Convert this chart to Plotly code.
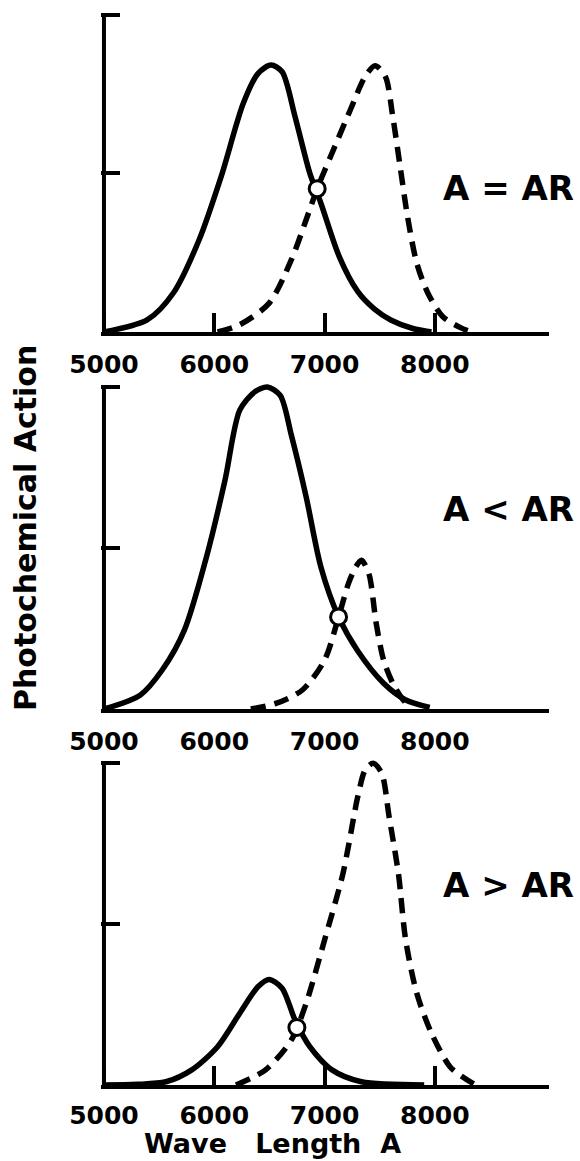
import plotly.graph_objects as go

# ---------------- data (wavelength in Angstrom, photochemical action in relative units) -------------
# Panel 1 : A = AR
p1_solid_x = [5000, 5395, 5629, 5863, 6063, 6264, 6398, 6515, 6615, 6732, 6866, 6966, 7133, 7300, 7450, 7600, 7800, 7969]
p1_solid_y = [0.0, 0.039, 0.123, 0.291, 0.491, 0.722, 0.816, 0.842, 0.821, 0.680, 0.501, 0.407, 0.238, 0.128, 0.073, 0.038, 0.011, 0.0]
p1_dash_x = [6030, 6231, 6498, 6699, 6833, 6933, 7067, 7234, 7368, 7458, 7551, 7618, 7685, 7752, 7836, 7936, 8070, 8237, 8337]
p1_dash_y = [0.0, 0.023, 0.091, 0.228, 0.354, 0.452, 0.564, 0.701, 0.806, 0.840, 0.806, 0.680, 0.522, 0.364, 0.217, 0.123, 0.049, 0.013, 0.0]
p1_cross_x = [6933]
p1_cross_y = [0.452]

# Panel 2 : A < AR
p2_solid_x = [5000, 5328, 5528, 5729, 5930, 6097, 6231, 6364, 6481, 6598, 6699, 6833, 6966, 7127, 7301, 7535, 7736, 7953]
p2_solid_y = [0.0, 0.043, 0.121, 0.245, 0.473, 0.710, 0.928, 0.984, 1.0, 0.974, 0.850, 0.659, 0.442, 0.286, 0.180, 0.080, 0.028, 0.005]
p2_dash_x = [6331, 6565, 6799, 7000, 7127, 7217, 7284, 7334, 7401, 7468, 7535, 7618, 7702, 7769]
p2_dash_y = [0.0, 0.018, 0.059, 0.152, 0.286, 0.390, 0.442, 0.462, 0.421, 0.266, 0.152, 0.080, 0.033, 0.007]
p2_cross_x = [7127]
p2_cross_y = [0.286]

# Panel 3 : A > AR
p3_solid_x = [5000, 5300, 5562, 5796, 6030, 6231, 6398, 6498, 6615, 6732, 6866, 7067, 7334, 7903]
p3_solid_y = [0.0, 0.002, 0.010, 0.047, 0.119, 0.223, 0.306, 0.328, 0.301, 0.202, 0.119, 0.047, 0.010, 0.0]
p3_dash_x = [6197, 6465, 6699, 6833, 7000, 7167, 7301, 7368, 7441, 7518, 7585, 7669, 7735, 7836, 7969, 8137, 8270, 8371]
p3_dash_y = [0.0, 0.047, 0.140, 0.254, 0.451, 0.658, 0.896, 0.979, 1.0, 0.969, 0.834, 0.658, 0.451, 0.285, 0.161, 0.057, 0.021, 0.0]
p3_cross_x = [6749]
p3_cross_y = [0.179]

panel_labels = ["A = AR", "A &lt; AR", "A &gt; AR"]
x_tick_vals = [5000, 6000, 7000, 8000]
x_tick_text = ["5000", "6000", "7000", "8000"]
y_tick_vals = [0.5, 1.0]
y_title = "Photochemical Action"
x_title = "Wave\u00a0\u00a0\u00a0Length\u00a0\u00a0A"

# ---------------- layout constants -------------
W, H = 580, 1161
FONT = "DejaVu Sans"
X_RANGE = [4975, 9030]
X_DOMAIN = [101.2 / W, 548.5 / W]
Y_RANGE = [0, 1.04]
Y_DOMAINS = [[1 - 332 / H, 1 - 2.3 / H],
             [1 - 709 / H, 1 - 374.1 / H],
             [1 - 1085 / H, 1 - 750.4 / H]]
show_xticks = [True, False, True]
label_standoff = [7, 7, 5]
label_pos = [(441, 188), (441, 509), (441, 885)]

panels = [
    (p1_solid_x, p1_solid_y, p1_dash_x, p1_dash_y, p1_cross_x, p1_cross_y),
    (p2_solid_x, p2_solid_y, p2_dash_x, p2_dash_y, p2_cross_x, p2_cross_y),
    (p3_solid_x, p3_solid_y, p3_dash_x, p3_dash_y, p3_cross_x, p3_cross_y),
]

fig = go.Figure()
layout = dict(
    width=W, height=H,
    margin=dict(l=0, r=0, t=0, b=0, autoexpand=False),
    paper_bgcolor="white", plot_bgcolor="white",
    showlegend=False,
    font=dict(family=FONT, color="black"),
)
shapes = []
annotations = []

for i, (sx, sy, dx, dy, cx, cy) in enumerate(panels):
    n = i + 1
    xa = "x" if n == 1 else f"x{n}"
    ya = "y" if n == 1 else f"y{n}"
    fig.add_trace(go.Scatter(
        x=sx, y=sy, mode="lines", xaxis=xa, yaxis=ya, hoverinfo="skip",
        line=dict(color="black", width=5.5, shape="spline", smoothing=0.8)))
    fig.add_trace(go.Scatter(
        x=dx, y=dy, mode="lines", xaxis=xa, yaxis=ya, hoverinfo="skip",
        line=dict(color="black", width=5.5, dash="15px,9px", shape="spline", smoothing=0.8)))
    fig.add_trace(go.Scatter(
        x=cx, y=cy, mode="markers", xaxis=xa, yaxis=ya, hoverinfo="skip",
        marker=dict(size=16, color="white", line=dict(color="black", width=3))))

    layout["xaxis" if n == 1 else f"xaxis{n}"] = dict(
        domain=X_DOMAIN, range=X_RANGE, anchor=ya, fixedrange=True, automargin=False,
        showgrid=False, zeroline=False,
        showline=True, linecolor="black", linewidth=4,
        tickmode="array", tickvals=x_tick_vals, ticktext=x_tick_text,
        ticks="inside" if show_xticks[i] else "", ticklen=19, tickwidth=3.5, tickcolor="black",
        tickfont=dict(family=FONT, size=25, color="black", weight="bold"),
        ticklabelstandoff=label_standoff[i],
    )
    layout["yaxis" if n == 1 else f"yaxis{n}"] = dict(
        domain=Y_DOMAINS[i], range=Y_RANGE, anchor=xa, fixedrange=True, automargin=False,
        showgrid=False, zeroline=False, showline=False,
        tickmode="array", tickvals=y_tick_vals, showticklabels=False,
        ticks="inside", ticklen=19, tickwidth=4, tickcolor="black",
    )
    # vertical axis line from 0 to 1 (the bracket of the original drawing)
    shapes.append(dict(type="line", xref=xa, yref=ya, x0=5000, x1=5000, y0=0, y1=1,
                       line=dict(color="black", width=4)))
    lx, ly = label_pos[i]
    annotations.append(dict(text=panel_labels[i], xref="paper", yref="paper",
                            x=lx / W, y=1 - ly / H, xanchor="left", yanchor="middle",
                            showarrow=False,
                            font=dict(family=FONT, size=34, color="black", weight="bold")))

annotations.append(dict(text=y_title, xref="paper", yref="paper", x=25 / W, y=1 - 528 / H,
                        textangle=-90, xanchor="center", yanchor="middle", showarrow=False,
                        font=dict(family=FONT, size=30, color="black", weight="bold")))
annotations.append(dict(text=x_title, xref="paper", yref="paper", x=272 / W, y=1 - 1143.5 / H,
                        xanchor="center", yanchor="middle", showarrow=False, borderpad=0,
                        font=dict(family=FONT, size=27, color="black", weight="bold")))

layout["shapes"] = shapes
layout["annotations"] = annotations
fig.update_layout(**layout)
fig.write_html(
    "out.html",
    config={"displayModeBar": False},
    post_script="document.body.style.margin='0';document.body.style.overflow='hidden';",
)
